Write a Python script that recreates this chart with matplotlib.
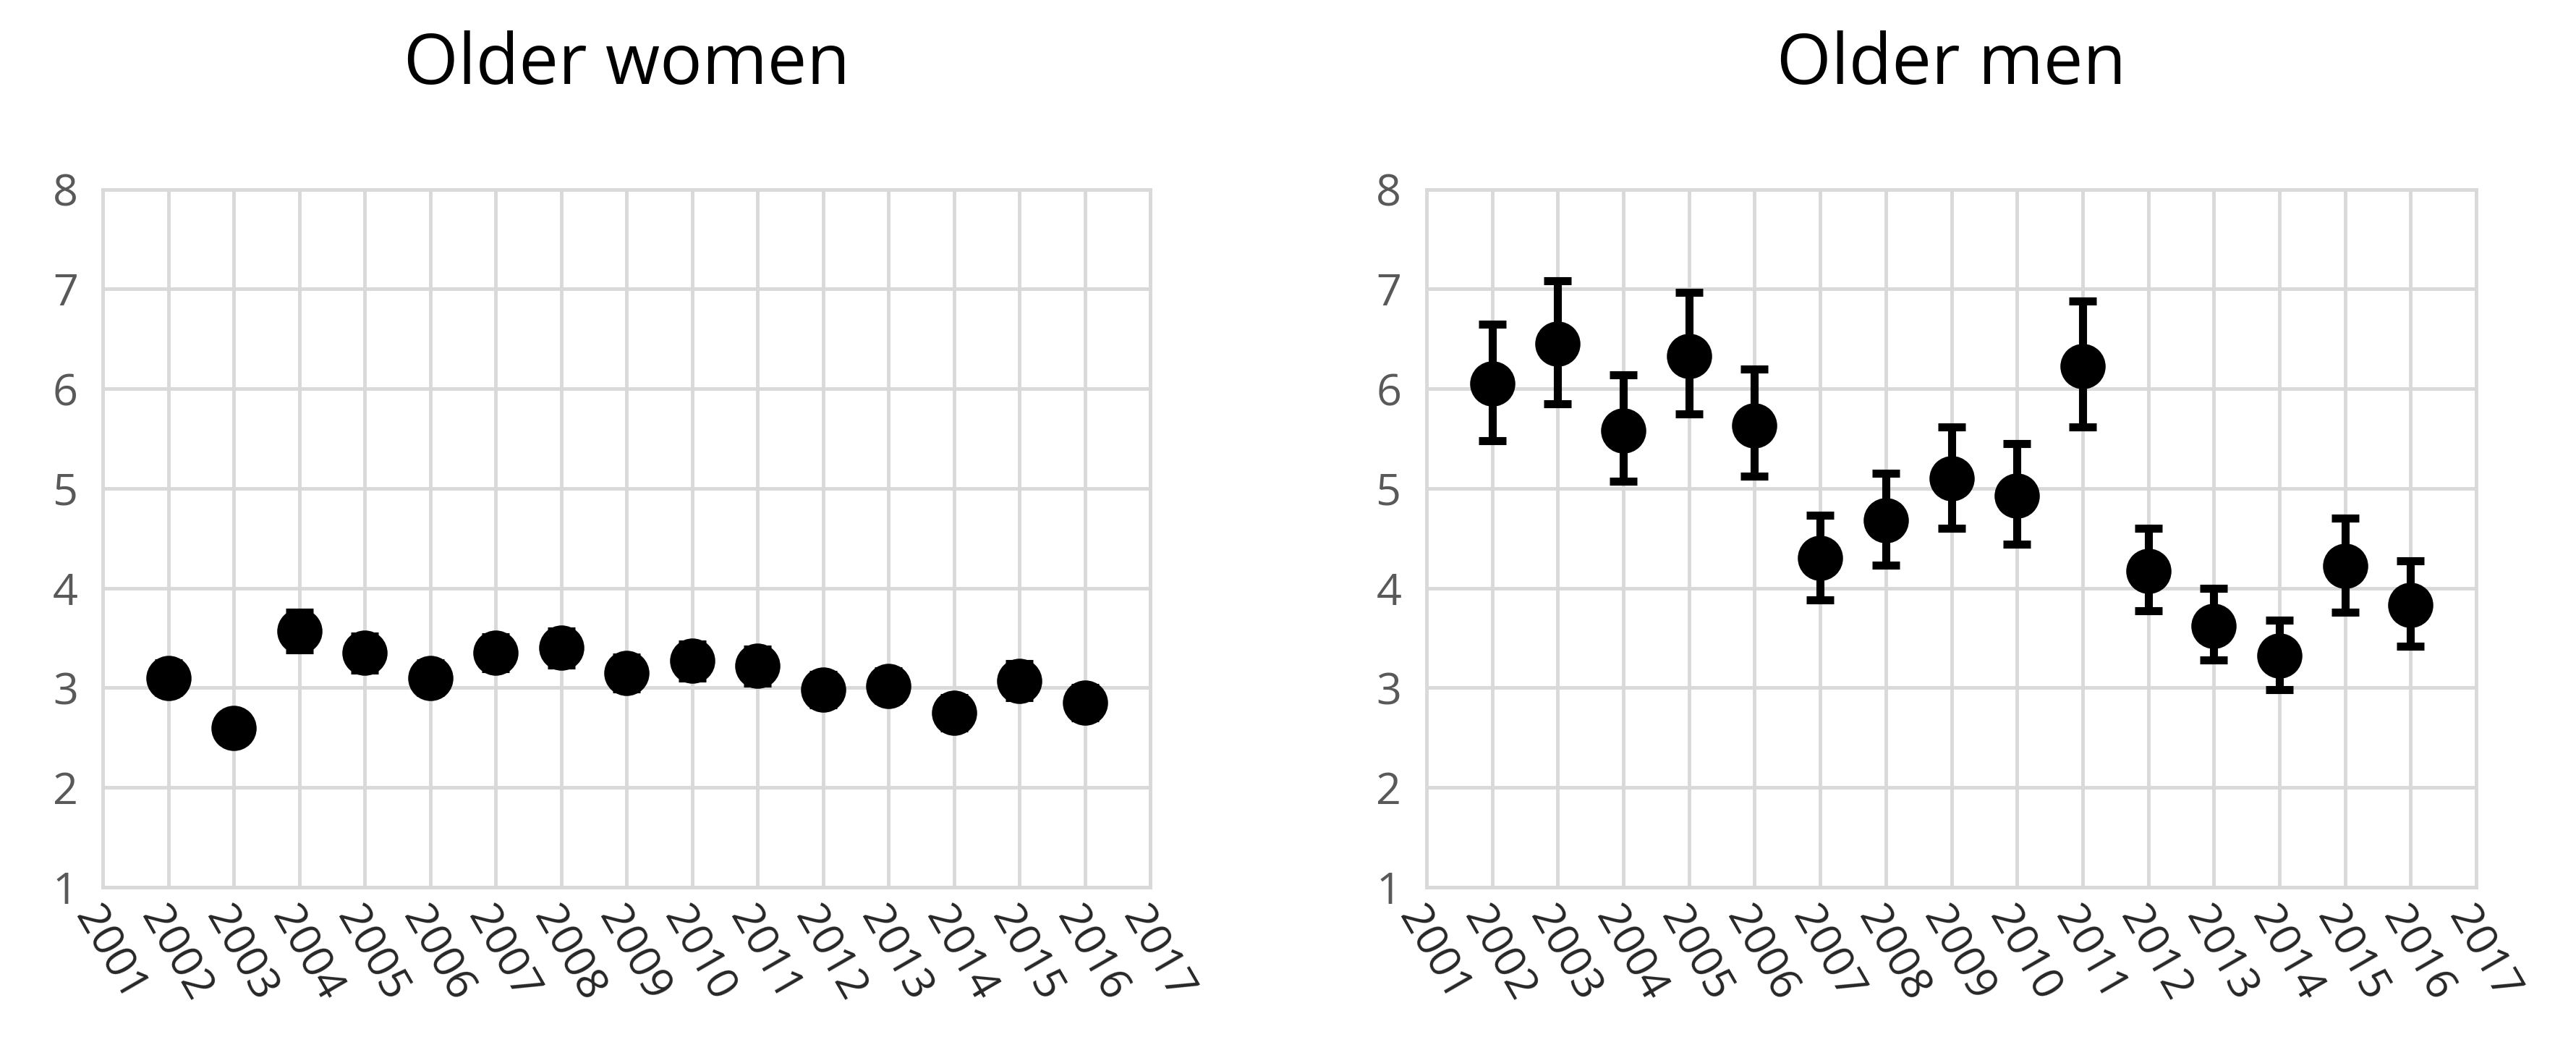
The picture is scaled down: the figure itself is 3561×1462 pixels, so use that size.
import matplotlib
matplotlib.use("Agg")
import matplotlib.pyplot as plt

years = list(range(2002, 2017))
tick_years = list(range(2001, 2018))
women = [3.1, 2.6, 3.57, 3.35, 3.1, 3.35, 3.4, 3.15, 3.27, 3.22, 2.98, 3.02, 2.75, 3.07, 2.85]
women_lo = [2.95, 2.47, 3.38, 3.18, 2.95, 3.19, 3.23, 2.99, 3.1, 3.05, 2.83, 2.87, 2.6, 2.9, 2.7]
women_hi = [3.25, 2.73, 3.76, 3.52, 3.25, 3.51, 3.57, 3.31, 3.44, 3.39, 3.13, 3.17, 2.9, 3.24, 3.0]
men = [6.05, 6.45, 5.58, 6.33, 5.63, 4.3, 4.68, 5.1, 4.93, 6.23, 4.17, 3.62, 3.32, 4.22, 3.83]
men_lo = [5.48, 5.85, 5.07, 5.75, 5.12, 3.88, 4.23, 4.6, 4.44, 5.62, 3.77, 3.28, 2.98, 3.76, 3.42]
men_hi = [6.65, 7.08, 6.14, 6.97, 6.2, 4.73, 5.15, 5.62, 5.45, 6.88, 4.6, 4.0, 3.68, 4.7, 4.27]

plt.rcParams['font.family'] = ['Open Sans', 'DejaVu Sans']
fig = plt.figure(figsize=(35.62, 14.62), dpi=100)
specs = [("Older women", women, women_lo, women_hi, [0.040, 0.1615, 0.4064, 0.6595]),
         ("Older men", men, men_lo, men_hi, [0.5536, 0.1615, 0.4074, 0.6595])]
for title, v, lo, hi, rect in specs:
    ax = fig.add_axes(rect)
    yerr = [[a - b for a, b in zip(v, lo)], [c - a for a, c in zip(v, hi)]]
    ax.errorbar(years, v, yerr=yerr, fmt='o', color='black', markersize=44,
                elinewidth=8, capsize=14, capthick=8, zorder=3)
    ax.set_xlim(2001, 2017)
    ax.set_ylim(1, 8)
    ax.set_xticks(tick_years)
    ax.set_xticklabels([str(y) for y in tick_years], rotation=-60, ha='left',
                       va='top', rotation_mode='anchor', fontsize=44, color='#262626')
    ax.set_yticks(range(1, 9))
    ax.tick_params(axis='y', labelsize=44, labelcolor='#595959', length=0, pad=25)
    ax.tick_params(axis='x', length=0, pad=12)
    ax.grid(True, color='#d9d9d9', linewidth=3.5)
    for s in ax.spines.values():
        s.set_color('#d9d9d9')
        s.set_linewidth(3.5)
    ax.set_axisbelow(True)
    ax.set_title(title, fontsize=70, pad=105)
fig.savefig("out.png", dpi=100)
